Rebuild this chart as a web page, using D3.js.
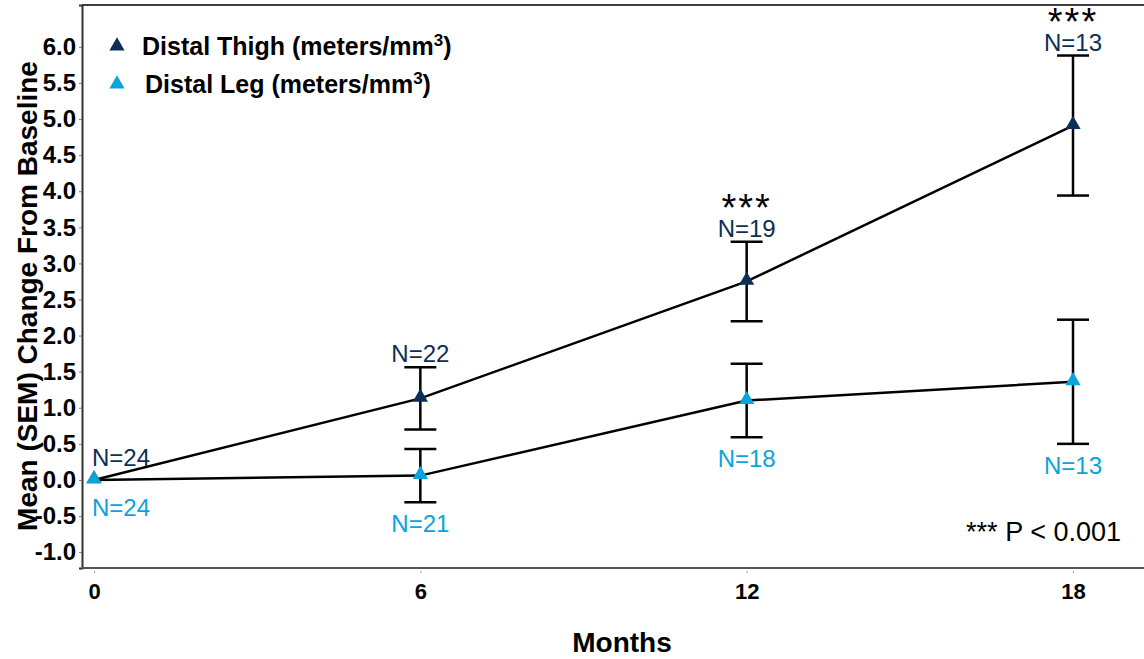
<!DOCTYPE html>
<html>
<head>
	<meta charset="utf-8">
	<style>
		html, body { margin: 0; background: white; }
		svg { display: block; font-family: "Liberation Sans", Arial, sans-serif; }
	</style>
</head>
<body>
<svg class="chart" width="1144" height="659"></svg>
<script src="https://d3js.org/d3.v7.min.js"></script>
<script>

// data
var months = [0, 6, 12, 18]
var thighMean = [0, 1.13, 2.75, 4.91]
var thighSem = [0, 0.43, 0.55, 0.97]
var thighN = [24, 22, 19, 13]
var legMean = [0, 0.06, 1.10, 1.36]
var legSem = [0, 0.37, 0.51, 0.86]
var legN = [24, 21, 18, 13]
var starred = [false, false, true, true]
var yTicks = [-1, -0.5, 0, 0.5, 1, 1.5, 2, 2.5, 3, 3.5, 4, 4.5, 5, 5.5, 6]

var cfg = {
	left: 82, right: 1144, top: 5, bottom: 568,
	navy: '#0b2f55',
	cyan: '#0aa3dc',
	capW: 16,
	font: '"Liberation Sans", Arial, sans-serif'
}

var svg = d3.select('.chart')

var x = d3.scaleLinear().domain([0, 18]).range([94, 1073])
var y = d3.scaleLinear().domain([-1.22, 6.58]).range([cfg.bottom, cfg.top])

// frame: top line (left and bottom come from the axes)
svg.append('line').attr('x1', cfg.left).attr('x2', cfg.right)
	.attr('y1', cfg.top).attr('y2', cfg.top).attr('stroke', '#000').attr('stroke-width', 1.5)

// y axis
var yAxis = svg.append('g')
	.attr('transform', 'translate(' + cfg.left + ',0)')
	.call(d3.axisLeft(y).tickValues(yTicks).tickSize(3).tickPadding(3)
		.tickFormat(function(d) { return d3.format('.1f')(d).replace('−', '-') }))
yAxis.select('.domain').attr('stroke', '#333').attr('stroke-width', 2)
yAxis.selectAll('.tick line').attr('stroke', '#777')
yAxis.selectAll('text').attr('font-size', 24).attr('font-weight', 'bold')
	.attr('font-family', cfg.font).attr('fill', '#000')

// x axis
var xAxis = svg.append('g')
	.attr('transform', 'translate(0,' + cfg.bottom + ')')
	.call(d3.axisBottom(x).tickValues(months).tickSize(5).tickPadding(10))
xAxis.select('.domain').attr('d', 'M' + cfg.left + ',0H' + cfg.right)
	.attr('stroke', '#555').attr('stroke-width', 2)
xAxis.selectAll('.tick line').attr('stroke', '#999').attr('y1', 3)
xAxis.selectAll('text').attr('font-size', 22).attr('font-weight', 'bold')
	.attr('font-family', cfg.font).attr('fill', '#000')

// axis titles
svg.append('text')
	.attr('transform', 'translate(37,296) rotate(-90)')
	.attr('text-anchor', 'middle')
	.attr('font-size', 28).attr('font-weight', 'bold')
	.text('Mean (SEM) Change From Baseline')

svg.append('text')
	.attr('x', 622).attr('y', 652)
	.attr('text-anchor', 'middle')
	.attr('font-size', 28).attr('font-weight', 'bold')
	.text('Months')

var series = [
	{ mean: thighMean, sem: thighSem, n: thighN, color: cfg.navy, above: true },
	{ mean: legMean, sem: legSem, n: legN, color: cfg.cyan, above: false }
]

var line = d3.line()
	.x(function(d) { return x(d.m) })
	.y(function(d) { return y(d.v) })

var tri = d3.symbol().type(d3.symbolTriangle).size(100)

series.forEach(function(s) {
	var pts = months.map(function(m, i) {
		return { m: m, v: s.mean[i], e: s.sem[i], n: s.n[i], i: i }
	})

	svg.append('path').datum(pts)
		.attr('d', line)
		.attr('fill', 'none').attr('stroke', '#000').attr('stroke-width', 2.5)

	// error bars
	var bars = svg.selectAll(null).data(pts.filter(function(p) { return p.e > 0 }))
		.enter().append('g')
	bars.append('line')
		.attr('x1', function(p) { return x(p.m) }).attr('x2', function(p) { return x(p.m) })
		.attr('y1', function(p) { return y(p.v + p.e) }).attr('y2', function(p) { return y(p.v - p.e) })
		.attr('stroke', '#000').attr('stroke-width', 2.5)
	bars.append('line')
		.attr('x1', function(p) { return x(p.m) - cfg.capW }).attr('x2', function(p) { return x(p.m) + cfg.capW })
		.attr('y1', function(p) { return y(p.v + p.e) }).attr('y2', function(p) { return y(p.v + p.e) })
		.attr('stroke', '#000').attr('stroke-width', 2.5)
	bars.append('line')
		.attr('x1', function(p) { return x(p.m) - cfg.capW }).attr('x2', function(p) { return x(p.m) + cfg.capW })
		.attr('y1', function(p) { return y(p.v - p.e) }).attr('y2', function(p) { return y(p.v - p.e) })
		.attr('stroke', '#000').attr('stroke-width', 2.5)

	// markers
	svg.selectAll(null).data(pts).enter().append('path')
		.attr('d', tri)
		.attr('transform', function(p) { return 'translate(' + x(p.m) + ',' + (y(p.v) - 1) + ')' })
		.attr('fill', s.color)

	// N labels
	svg.selectAll(null).data(pts).enter().append('text')
		.attr('x', function(p) { return p.i === 0 ? x(p.m) - 2 : x(p.m) })
		.attr('y', function(p) {
			if (s.above) return p.e > 0 ? y(p.v + p.e) - 5 : y(p.v) - 14
			return p.e > 0 ? y(p.v - p.e) + 30 : y(p.v) + 36
		})
		.attr('text-anchor', function(p) { return p.i === 0 ? 'start' : 'middle' })
		.attr('font-size', 24).attr('fill', s.color)
		.text(function(p) { return 'N=' + p.n })

	// significance stars over the thigh labels
	if (s.above) {
		svg.selectAll(null).data(pts.filter(function(p) { return starred[p.i] })).enter().append('text')
			.attr('x', function(p) { return x(p.m) })
			.attr('y', function(p) { return y(p.v + p.e) - 21 })
			.attr('text-anchor', 'middle')
			.attr('font-size', 38).attr('fill', '#000')
			.attr('letter-spacing', 2)
			.text('***')
	}
})

// p value note
svg.append('text')
	.attr('x', 1121).attr('y', 541)
	.attr('text-anchor', 'end')
	.attr('font-size', 27).attr('fill', '#000')
	.text('*** P < 0.001')

// legend
var legend = svg.append('g').attr('transform', 'translate(117,45)')
var legendItems = [
	{ label: 'Distal Thigh (meters/mm', color: cfg.navy },
	{ label: 'Distal Leg (meters/mm', color: cfg.cyan }
]
legendItems.forEach(function(item, i) {
	var g = legend.append('g').attr('transform', 'translate(0,' + (i * 38) + ')')
	g.append('path').attr('d', tri).attr('fill', item.color).attr('transform', 'translate(0,1)')
	var t = g.append('text').attr('x', i === 0 ? 25 : 28).attr('y', 10)
		.attr('font-size', 25).attr('font-weight', 'bold').attr('fill', '#000')
	t.append('tspan').text(item.label)
	t.append('tspan').attr('font-size', 17).attr('dy', -9).text('3')
	t.append('tspan').attr('dy', 9).text(')')
})

</script>
</body>
</html>
